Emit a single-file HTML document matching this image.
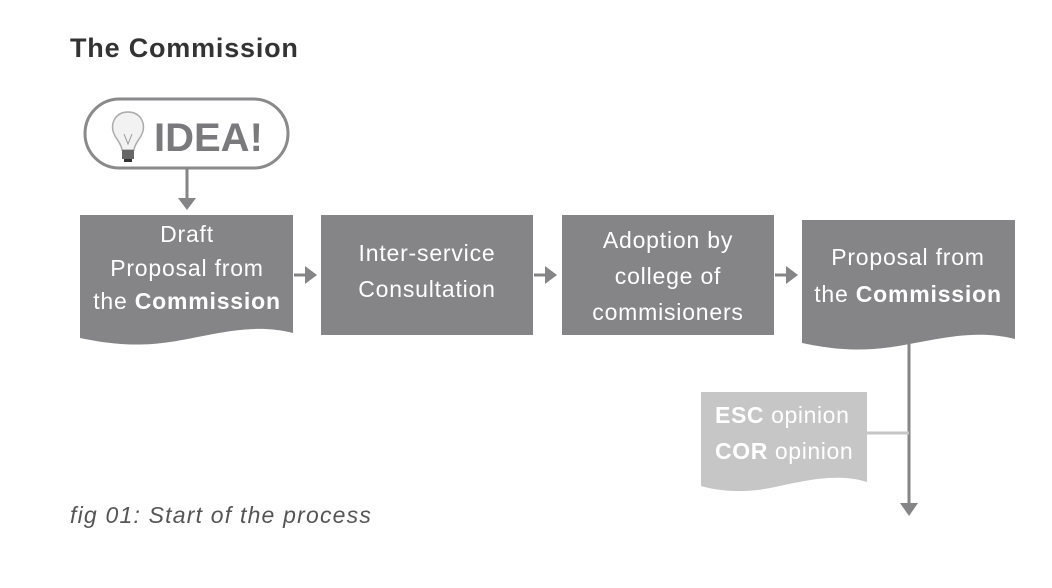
<!DOCTYPE html>
<html><head><meta charset="utf-8"><style>
html,body{margin:0;padding:0;background:#fff;}
svg{display:block;font-family:"Liberation Sans",sans-serif;}
</style></head><body>
<svg width="1052" height="588" viewBox="0 0 1052 588" xmlns="http://www.w3.org/2000/svg">
<text x="70" y="57" font-size="27" font-weight="bold" fill="#333" letter-spacing="0.8">The Commission</text>
<!-- IDEA pill -->
<rect x="85" y="99" width="203" height="69" rx="34.5" fill="#fff" stroke="#8a8a8c" stroke-width="3"/>
<g>
<path d="M128,112 C116,112 111,122 113,131 C115,139 121,142 122,150 L134,150 C135,142 141,139 143,131 C145,122 140,112 128,112 Z" fill="#f2f2f2" stroke="#aaa" stroke-width="1.5"/>
<path d="M124,134 L128,144 L132,134" fill="none" stroke="#999" stroke-width="1"/>
<rect x="122" y="150" width="12" height="9" fill="#666"/>
<rect x="124" y="159" width="8" height="3" fill="#333"/>
</g>
<text x="154" y="151" font-size="40" font-weight="bold" fill="#7a7a7c">IDEA!</text>
<line x1="187" y1="168" x2="187" y2="200" stroke="#858587" stroke-width="3"/>
<polygon points="178,198 196,198 187,210" fill="#858587"/>
<!-- Box1 -->
<path d="M80,215 H293 V333 C250,322 210,336 170,342 C130,348 100,342 80,338 Z" fill="#858587"/>
<g fill="#fff" font-size="23" letter-spacing="0.8" text-anchor="middle">
<text x="187" y="242">Draft</text>
<text x="187" y="276">Proposal from</text>
<text x="187" y="309">the <tspan font-weight="bold">Commission</tspan></text>
</g>
<line x1="294" y1="275" x2="306" y2="275" stroke="#858587" stroke-width="3"/>
<polygon points="305,266 317,275 305,284" fill="#858587"/>
<!-- Box2 -->
<rect x="321" y="215" width="212" height="120" fill="#858587"/>
<g fill="#fff" font-size="23" letter-spacing="0.8" text-anchor="middle">
<text x="427" y="261">Inter-service</text>
<text x="427" y="297">Consultation</text>
</g>
<line x1="534" y1="275" x2="546" y2="275" stroke="#858587" stroke-width="3"/>
<polygon points="545,266 557,275 545,284" fill="#858587"/>
<!-- Box3 -->
<rect x="562" y="215" width="212" height="120" fill="#858587"/>
<g fill="#fff" font-size="23" letter-spacing="0.8" text-anchor="middle">
<text x="668" y="248">Adoption by</text>
<text x="668" y="284">college of</text>
<text x="668" y="320">commisioners</text>
</g>
<line x1="775" y1="275" x2="787" y2="275" stroke="#858587" stroke-width="3"/>
<polygon points="786,266 798,275 786,284" fill="#858587"/>
<!-- Box4 -->
<path d="M802,220 H1015 V339 C972,328 932,341 892,347 C852,353 822,347 802,343 Z" fill="#858587"/>
<g fill="#fff" font-size="23" letter-spacing="0.8" text-anchor="middle">
<text x="908" y="265">Proposal from</text>
<text x="908" y="302">the <tspan font-weight="bold">Commission</tspan></text>
</g>
<line x1="909" y1="340" x2="909" y2="505" stroke="#858587" stroke-width="3"/>
<polygon points="900,503 918,503 909,516" fill="#858587"/>
<!-- ESC box -->
<line x1="866" y1="433" x2="909" y2="433" stroke="#c6c6c6" stroke-width="3"/>
<path d="M701,392 H867 V482 C835,472 800,482 770,488 C740,494 715,490 701,486 Z" fill="#c6c6c6"/>
<g fill="#fff" font-size="23" letter-spacing="0.6">
<text x="715" y="423"><tspan font-weight="bold">ESC</tspan> opinion</text>
<text x="715" y="459"><tspan font-weight="bold">COR</tspan> opinion</text>
</g>
<text x="70" y="523" font-size="23" font-style="italic" fill="#555" letter-spacing="1.2">fig 01: Start of the process</text>
</svg>
</body></html>
